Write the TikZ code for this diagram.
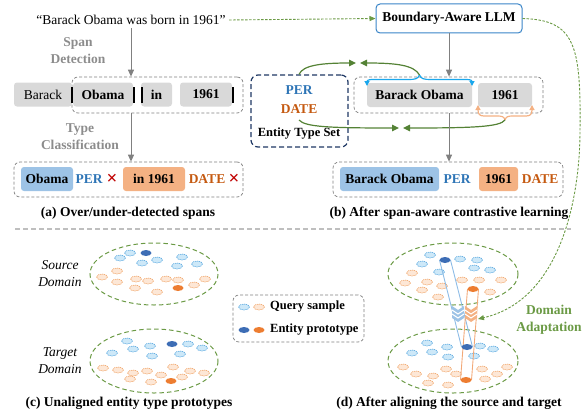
\documentclass[tikz,border=0pt]{standalone}
\usepackage{fontspec}
\setmainfont{Liberation Serif}
\usetikzlibrary{arrows.meta,calc,shapes.geometric}
\definecolor{cgreen}{HTML}{548235}
\definecolor{cgreenl}{HTML}{6B9A45}
\definecolor{cblue}{HTML}{2E75B6}
\definecolor{llmblue}{HTML}{3A85C8}
\definecolor{corange}{HTML}{C55A11}
\definecolor{bluefill}{HTML}{9DC3E6}
\definecolor{orangefill}{HTML}{F4B183}
\definecolor{tokgray}{HTML}{D9D9D9}
\definecolor{navy}{HTML}{1F3864}
\definecolor{cyanb}{HTML}{1AA7EC}
\definecolor{arrgray}{HTML}{808080}
\definecolor{dashgray}{HTML}{7F7F7F}
\definecolor{sepgray}{HTML}{BFBFBF}
\definecolor{crossred}{HTML}{C00000}
\definecolor{labgray}{HTML}{8C8C8C}
\definecolor{qbfill}{HTML}{CDE8F8}
\definecolor{qbdraw}{HTML}{4FA3DE}
\definecolor{qofill}{HTML}{FDE7D6}
\definecolor{qodraw}{HTML}{F0A060}
\definecolor{pbfill}{HTML}{3D6DB5}
\definecolor{pofill}{HTML}{ED7D31}
\definecolor{cylb}{HTML}{8DBCE6}
\definecolor{cylo}{HTML}{F2A877}
\newcommand\fsa{\fontsize{13.5}{17}\selectfont}
\newcommand\fsb{\fontsize{12.5}{15}\selectfont}
\newcommand\fsx{\fontsize{19}{19}\selectfont}
\begin{document}
\begin{tikzpicture}[x=1pt,y=-1pt,
  tok/.style={fill=tokgray, rounded corners=3pt, minimum height=24pt, inner sep=0pt, font=\fsa\bfseries},
  bspan/.style={fill=bluefill, rounded corners=3pt, minimum height=24pt, inner sep=0pt, font=\fsa\bfseries},
  ospan/.style={fill=orangefill, rounded corners=3pt, minimum height=24pt, inner sep=0pt, font=\fsa\bfseries},
  dbox/.style={draw=dashgray, dash pattern=on 3pt off 2pt, rounded corners=6pt, line width=0.7pt, inner sep=0pt},
  garr/.style={draw=arrgray, line width=1pt, -{Triangle[length=7pt,width=6pt]}},
  grarr/.style={draw=cgreen, line width=1.2pt, -{Triangle[length=7pt,width=6.5pt]}},
  gdash/.style={draw=cgreenl, line width=0.9pt, dash pattern=on 2.5pt off 1.5pt, -{Triangle[length=6pt,width=5pt]}},
  bar/.style={line width=1.1pt},
  lbl/.style={font=\fsa\bfseries},
  xmark/.style={font=\fsx\bfseries, text=crossred, inner sep=0pt},
  gell/.style={draw=cgreenl, line width=1pt, dash pattern=on 4.5pt off 3pt},
  qb/.style={fill=qbfill, draw=qbdraw, line width=0.6pt, dash pattern=on 1.2pt off 0.8pt},
  qo/.style={fill=qofill, draw=qodraw, line width=0.6pt, dash pattern=on 1.2pt off 0.8pt},
  pb/.style={fill=pbfill},
  po/.style={fill=pofill}
]
\useasboundingbox (0,0) rectangle (585,412);

% ---------- top sentence and LLM ----------
\node[font=\fsa] (sent) at (131,20) {“Barack Obama was born in 1961”};
\node[draw=llmblue, line width=1pt, rounded corners=4pt, fill=white, minimum width=146pt, minimum height=29pt, inner sep=0pt, font=\fsa\bfseries] (llm) at (449,18.5) {Boundary-Aware LLM};
\draw[gdash] (sent.east) -- (llm.west);

% ---------- panel (a) ----------
\node[lbl, text=labgray, align=center] (sd) at (78,51) {Span\\Detection};
\node[dbox, minimum width=171pt, minimum height=36pt] (spanbox) at (157.5,95) {};
\node[tok, font=\fsa, minimum width=58pt] (tbarack) at (43,94.5) {Barack};
\node[tok, minimum width=60pt] (tobama) at (103,94.5) {Obama};
\node[tok, minimum width=31pt] (tin) at (156.5,94.5) {in};
\node[tok, minimum width=52pt] (t1961) at (206,94.5) {1961};
\draw[bar] (72,87) -- (72,103);
\draw[bar] (134,87) -- (134,103);
\draw[bar] (142,87) -- (142,103);
\draw[bar] (233,87) -- (233,103);
\draw[garr] (sent.south) -- (sent.south |- spanbox.north);

\node[lbl, text=labgray, align=center] (tc) at (80,136.5) {Type\\Classification};
\node[dbox, minimum width=229pt, minimum height=35pt] (abox) at (128.5,179.5) {};
\draw[garr] (sent.south |- spanbox.south) -- (sent.south |- abox.north);
\node[bspan, minimum width=52pt] (aob) at (47,179) {Obama};
\node[lbl, text=cblue] (aper) at (89,179) {PER};
\node[xmark] (ax1) at (112,179) {×};
\node[ospan, minimum width=62pt] (ain) at (154,179) {in 1961};
\node[lbl, text=corange] (adate) at (207,179) {DATE};
\node[xmark] (ax2) at (234,179) {×};
\node[lbl] (capa) at (128,213) {(a) Over/under-detected spans};

% ---------- panel (b) ----------
\node[draw=navy, dash pattern=on 5pt off 3pt, line width=1.2pt, rounded corners=7pt, minimum width=97pt, minimum height=72pt, inner sep=0pt] (ets) at (299.5,111) {};
\node[lbl, text=cblue] (eper) at (299,90) {PER};
\node[lbl, text=corange] (edate) at (299,109) {DATE};
\node[font=\fsb\bfseries] (etsl) at (299,134) {Entity Type Set};

\node[dbox, minimum width=189pt, minimum height=36pt] (bspanbox) at (448.5,95) {};
\node[tok, minimum width=105pt] (bbo) at (419.5,95) {Barack Obama};
\node[tok, minimum width=54pt] (b1961) at (505,95) {1961};
\draw[garr] (llm.south) -- (llm.south |- bspanbox.north);

% blue brace over Barack Obama
\draw[draw=cyanb, line width=1.2pt, -{Triangle[length=5pt,width=5pt]}] (419.5,75) .. controls (418,79) and (415,79.5) .. (408,79.5) -- (372,79.5) .. controls (368,79.5) and (367,81) .. (367,86);
\draw[draw=cyanb, line width=1.2pt, -{Triangle[length=5pt,width=5pt]}] (419.5,75) .. controls (421,79) and (424,79.5) .. (431,79.5) -- (467,79.5) .. controls (471,79.5) and (472,81) .. (472,86);
% orange brace under 1961
\draw[draw=orangefill, line width=1.2pt, -{Triangle[length=5pt,width=5pt]}] (505,120) .. controls (504,116.5) and (502,116) .. (497,116) -- (484,116) .. controls (479.5,116) and (478,114) .. (478,105);
\draw[draw=orangefill, line width=1.2pt, -{Triangle[length=5pt,width=5pt]}] (505,120) .. controls (506,116.5) and (508,116) .. (513,116) -- (526,116) .. controls (530.5,116) and (532,114) .. (532,105);

% green contrastive arrows
\draw[grarr] (ets.north -| eper) .. controls (303,65) and (322,63) .. (356,63);
\draw[grarr] (419.5,75) .. controls (414,65) and (396,63) .. (360,63);
\draw[grarr] (299,120) .. controls (305,127) and (330,128) .. (399,128);
\draw[grarr] (505,120) .. controls (500,127) and (472,128) .. (403,128);

\node[dbox, minimum width=230pt, minimum height=35pt] (bbox) at (448,179.5) {};
\draw[garr] (llm.south |- bspanbox.south) -- (llm.south |- bbox.north);
\node[bspan, minimum width=99pt] (bbo2) at (389.5,179) {Barack Obama};
\node[lbl, text=cblue] (bper) at (457,179) {PER};
\node[ospan, minimum width=39pt] (b19612) at (498.5,179) {1961};
\node[lbl, text=corange] (bdate) at (540,179) {DATE};
\node[lbl] (capb) at (449,213) {(b) After span-aware contrastive learning};

% separator
\draw[sepgray, line width=1.8pt, dash pattern=on 5pt off 3pt] (15,229) -- (571,229);

% ---------- panel (c) ----------
\node[font=\fsa\itshape, align=center] (srcl) at (60,273.5) {Source\\Domain};
\node[font=\fsa\itshape, align=center] (tgtl) at (60,360.5) {Target\\Domain};
\draw[gell] (154,274) ellipse [x radius=64, y radius=31];
\draw[gell] (154,361) ellipse [x radius=64, y radius=32];
\foreach \p in {(120,258),(130,253),(142,263),(157,260),(182,257),(177,266),(197,264),
                (127,341),(112,353),(133,349),(150,346),(188,344),(202,348),(152,356),(180,354)}
  \draw[qb] \p ellipse [x radius=5.5, y radius=3];
\foreach \p in {(102,277),(117,271),(117,282),(136,279),(148,281),(166,279),(178,280),(205,279),(135,288),(157,292),(194,285),
                (103,368),(118,370),(133,373),(147,371),(161,375),(173,367),(190,371),(204,373),(130,379),(151,382),(182,377)}
  \draw[qo] \p ellipse [x radius=5.5, y radius=3];
\fill[pb] (146,253) ellipse [x radius=5.5, y radius=3];
\fill[pb] (172,344) ellipse [x radius=5.5, y radius=3];
\fill[po] (178,288) ellipse [x radius=5.5, y radius=3];
\fill[po] (171,381) ellipse [x radius=5.5, y radius=3];
\node[lbl] (capc) at (129,403) {(c) Unaligned entity type prototypes};

% legend
\node[dbox, minimum width=131pt, minimum height=47pt] (legend) at (298.5,318.5) {};
\draw[qb] (244,307) ellipse [x radius=5.5, y radius=3];
\draw[qo] (259,307) ellipse [x radius=5.5, y radius=3];
\fill[pb] (244,330) ellipse [x radius=5.5, y radius=3];
\fill[po] (259,330) ellipse [x radius=5.5, y radius=3];
\node[font=\fsb\bfseries, anchor=west, inner sep=0pt] (lq) at (270,307) {Query sample};
\node[font=\fsb\bfseries, anchor=west, inner sep=0pt] (lp) at (270,330) {Entity prototype};

% ---------- panel (d) ----------
\draw[gell] (453,274) ellipse [x radius=65, y radius=31];
\draw[gell] (453,361) ellipse [x radius=65, y radius=32];
\foreach \p in {(430,255),(460,259),(477,260),(422,264),(439,272),(474,268),(490,270),
                (427,343),(447,347),(480,346),(493,349),(412,353),(432,352),(448,357),(474,356)}
  \draw[qb] \p ellipse [x radius=5.5, y radius=3];
\foreach \p in {(412,273),(405,283),(427,282),(442,286),(422,290),(438,297),(462,280),(479,280),(501,280),(490,292),
                (403,367),(416,374),(433,376),(446,369),(456,374),(428,383),(448,385),(482,369),(485,379),(497,374),(507,367)}
  \draw[qo] \p ellipse [x radius=5.5, y radius=3];
% cylinders
\draw[cylb, line width=0.9pt] (439.5,260) -- (461.5,347);
\draw[cylb, line width=0.9pt] (450.5,260) -- (472.5,347);
\draw[cylo, line width=0.9pt] (467.5,289) -- (460.5,380);
\draw[cylo, line width=0.9pt] (478.5,289) -- (471.5,380);
% chevrons
\begin{scope}[shift={(458,306)}]
  \fill[bluefill] (-6,0) -- (0,4) -- (6,0) -- (6,12) -- (0,16) -- (-6,12) -- cycle;
  \draw[white, line width=1pt] (-6,4) -- (0,8) -- (6,4);
  \draw[white, line width=1pt] (-6,8) -- (0,12) -- (6,8);
\end{scope}
\begin{scope}[shift={(471,306)}]
  \fill[orangefill] (-6,0) -- (0,4) -- (6,0) -- (6,12) -- (0,16) -- (-6,12) -- cycle;
  \draw[white, line width=1pt] (-6,4) -- (0,8) -- (6,4);
  \draw[white, line width=1pt] (-6,8) -- (0,12) -- (6,8);
\end{scope}
\fill[pb] (445,260) ellipse [x radius=5.5, y radius=3];
\fill[pb] (467,347) ellipse [x radius=5.5, y radius=3];
\fill[po] (473,289) ellipse [x radius=5.5, y radius=3];
\fill[po] (466,380) ellipse [x radius=5.5, y radius=3];
\coordinate (datip) at (478,319);
\node[font=\fsa\bfseries, text=cgreenl, align=center] (dal) at (549,319.5) {Domain\\Adaptation};
\draw[gdash] (llm.east) .. controls (575,20) and (581,45) .. (580,130) .. controls (580,200) and (560,300) .. (datip);
\node[lbl] (capd) at (449,403) {(d) After aligning the source and target};
\end{tikzpicture}
\end{document}
